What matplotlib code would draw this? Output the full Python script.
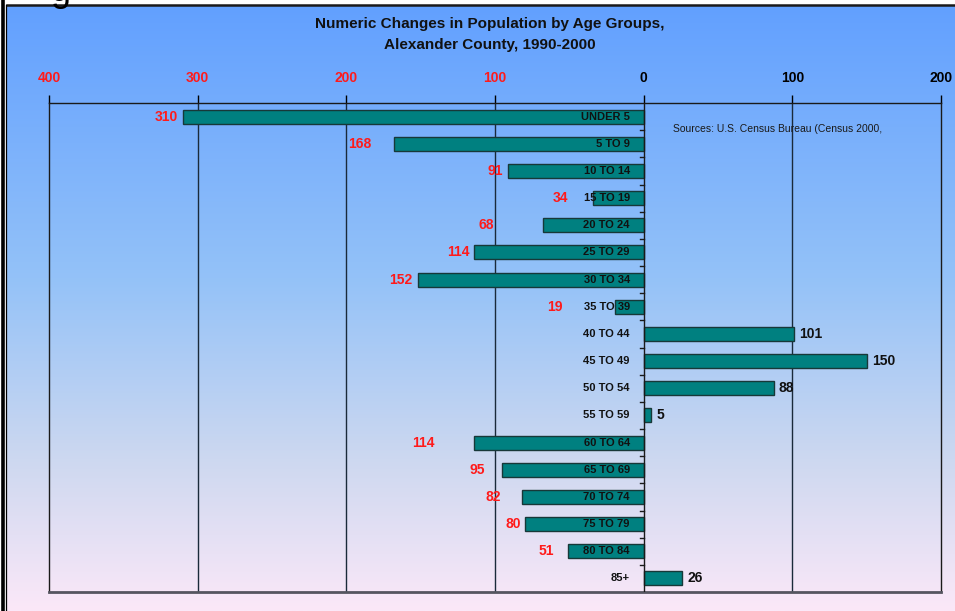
import matplotlib.pyplot as plt
import numpy as np
from matplotlib.colors import LinearSegmentedColormap

plt.rcParams['font.family'] = ['Liberation Sans', 'DejaVu Sans']

# datos
grupos = ['UNDER 5', '5 TO 9', '10 TO 14', '15 TO 19', '20 TO 24', '25 TO 29',
          '30 TO 34', '35 TO 39', '40 TO 44', '45 TO 49', '50 TO 54', '55 TO 59',
          '60 TO 64', '65 TO 69', '70 TO 74', '75 TO 79', '80 TO 84', '85+']
cambios = [-310, -168, -91, -34, -68, -114, -152, -19, 101, 150, 88, 5,
           -114, -95, -82, -80, -51, 26]
ticks = [-400, -300, -200, -100, 0, 100, 200]
tick_labels = ['400', '300', '200', '100', '0', '100', '200']

# separacion extra (px) entre el final de la barra y la etiqueta
sep_etiqueta = [5, 23, 5, 25, 49, 5, 5, 53, 5, 5, 4, 5, 40, 17, 21, 4, 14, 5]

fig = plt.figure(figsize=(9.55, 6.11), dpi=100)
W, H = 955, 611

# fondo degradado
bg = fig.add_axes([7 / W, 0, 1 - 7 / W, 1 - 6 / H])
cmap = LinearSegmentedColormap.from_list('fondo', [(0, '#62a0ff'), (0.45, '#94c2f8'),
                                                   (0.75, '#cdd8f0'), (1, '#fbe8f8')])
grad = np.linspace(0, 1, 256).reshape(-1, 1)
bg.imshow(grad, aspect='auto', cmap=cmap, extent=[0, 1, 1, 0])
bg.set_xlim(0, 1)
bg.set_ylim(1, 0)
bg.axis('off')

# marco
fig.add_artist(plt.Line2D([7 / W, 1], [1 - 5 / H, 1 - 5 / H], color='#1a1a1a', lw=1.8))
fig.add_artist(plt.Line2D([2.5 / W, 2.5 / W], [0, 1], color='black', lw=2.6))
fig.add_artist(plt.Line2D([5.8 / W, 5.8 / W], [0, 1 - 5 / H], color='black', lw=0.9))
fig.text(50 / W, 1 - 9 / H, 'g', fontsize=26, color='black', va='bottom', zorder=10)

ax = fig.add_axes([49 / W, 1 - 592 / H, (941 - 49) / W, (592 - 103) / H])
ax.patch.set_alpha(0)

y = np.arange(len(grupos))
ax.barh(y, cambios, height=0.52, color='#008080', edgecolor='#173838', linewidth=1, zorder=3)

ax.set_xlim(-400, 200)
ax.set_ylim(len(grupos) - 0.5, -0.5)
ax.set_xticks(ticks)
ax.set_xticklabels(tick_labels)
ax.xaxis.tick_top()
ax.tick_params(axis='x', direction='out', length=6, width=1, pad=7, labelsize=10)
for lbl, t in zip(ax.get_xticklabels(), ticks):
    lbl.set_fontweight('bold')
    lbl.set_color('#ff1a1a' if t < 0 else 'black')
ax.set_yticks([])

for t in ticks[1:-1]:
    if t != 0:
        ax.axvline(t, color='#1a2a3a', lw=1, zorder=1)
ax.axvline(0, color='#1a1a1a', lw=1, zorder=4)
# marcas entre categorias sobre el eje 0
for k in range(1, len(grupos)):
    ax.plot([-2.5, 0], [k - 0.5, k - 0.5], color='#1a1a1a', lw=1, zorder=4)

for s in ['top', 'left', 'right']:
    ax.spines[s].set_color('#1a1a1a')
    ax.spines[s].set_linewidth(1)
ax.spines['bottom'].set_color('#555560')
ax.spines['bottom'].set_linewidth(2)

for i, (g, v) in enumerate(zip(grupos, cambios)):
    ax.annotate(g, (0, i), xytext=(-10, 0), textcoords='offset points',
                ha='right', va='center', fontsize=8, fontweight='bold', color='#111111', zorder=5)
    if v < 0:
        ax.annotate(str(-v), (v, i), xytext=(-sep_etiqueta[i] * 0.72, 0), textcoords='offset points',
                    ha='right', va='center', fontsize=10, fontweight='bold', color='#ff1a1a', zorder=5)
    else:
        ax.annotate(str(v), (v, i), xytext=(sep_etiqueta[i] * 0.72, 0), textcoords='offset points',
                    ha='left', va='center', fontsize=10, fontweight='bold', color='#111111', zorder=5)

ax.text(20, 0.45, 'Sources: U.S. Census Bureau (Census 2000,', fontsize=7.5, color='#1a1a1a',
        ha='left', va='center', zorder=5)

fig.text(490 / W, 1 - 24 / H, 'Numeric Changes in Population by Age Groups,',
         ha='center', va='center', fontsize=11, fontweight='bold', color='#111111')
fig.text(490 / W, 1 - 45 / H, 'Alexander County, 1990-2000',
         ha='center', va='center', fontsize=11, fontweight='bold', color='#111111')

fig.savefig('out.png', dpi=100)
